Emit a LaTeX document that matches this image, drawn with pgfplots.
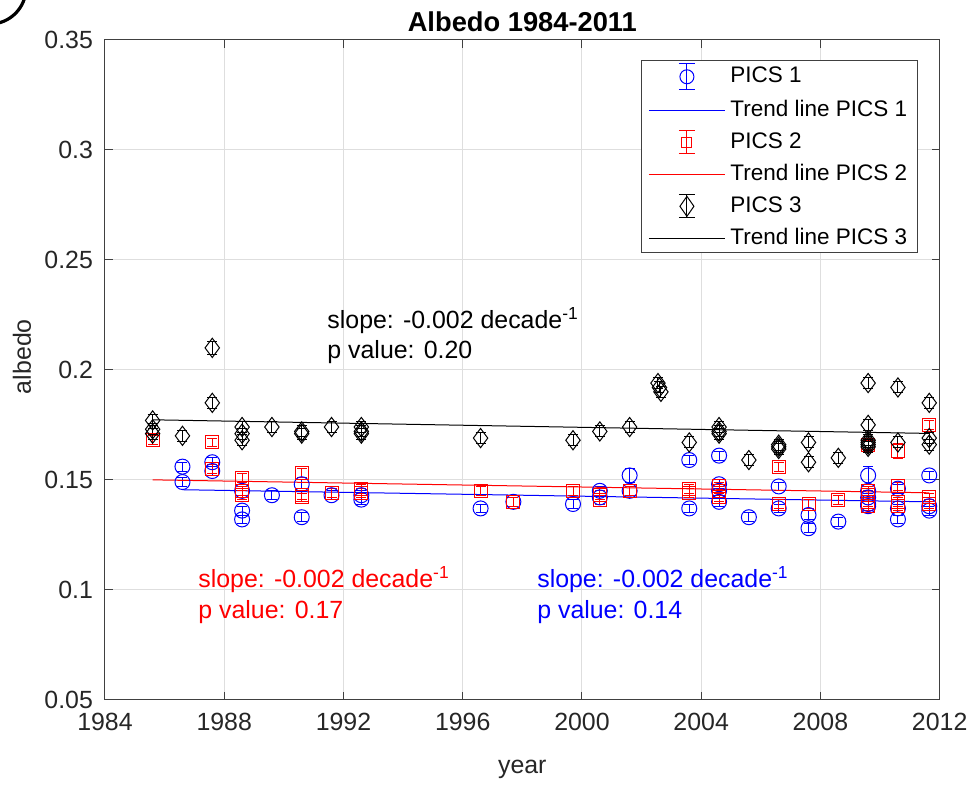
\documentclass[border=0pt]{standalone}
\usepackage{fontspec}
\setmainfont{Liberation Sans}
\usepackage{pgfplots}
\usepackage{pgfplotstable}
\pgfplotsset{compat=1.18}

% year, albedo, error
\pgfplotstableread{
x y e
1986.6 0.156 0.002
1986.6 0.149 0.002
1987.6 0.158 0.002
1987.6 0.154 0.002
1988.6 0.145 0.002
1988.6 0.136 0.002
1988.6 0.132 0.002
1989.6 0.143 0.002
1990.6 0.148 0.002
1990.6 0.133 0.002
1991.6 0.143 0.002
1992.6 0.143 0.002
1992.6 0.141 0.002
1996.6 0.137 0.002
1997.7 0.140 0.002
1999.7 0.139 0.002
2000.6 0.145 0.002
2000.6 0.142 0.002
2001.6 0.152 0.003
2001.6 0.145 0.002
2003.6 0.159 0.002
2003.6 0.137 0.002
2004.6 0.161 0.002
2004.6 0.148 0.002
2004.6 0.145 0.002
2004.6 0.140 0.002
2005.6 0.133 0.002
2006.6 0.147 0.002
2006.6 0.137 0.002
2007.6 0.134 0.002
2007.6 0.128 0.002
2008.6 0.131 0.002
2009.6 0.152 0.004
2009.6 0.145 0.002
2009.6 0.142 0.002
2009.6 0.139 0.002
2009.6 0.138 0.002
2010.6 0.146 0.002
2010.6 0.137 0.002
2010.6 0.132 0.002
2011.65 0.152 0.002
2011.65 0.138 0.002
2011.65 0.136 0.002
}\picsone

\pgfplotstableread{
x y e
1985.6 0.168 0.002
1987.6 0.167 0.002
1987.6 0.155 0.002
1988.6 0.151 0.002
1988.6 0.145 0.002
1988.6 0.143 0.002
1990.6 0.153 0.002
1990.6 0.143 0.002
1990.6 0.142 0.002
1991.6 0.144 0.002
1992.6 0.146 0.002
1992.6 0.144 0.002
1996.6 0.145 0.002
1997.7 0.140 0.002
1999.7 0.145 0.002
2000.6 0.143 0.002
2000.6 0.141 0.002
2001.6 0.145 0.002
2003.6 0.146 0.002
2003.6 0.144 0.002
2004.6 0.147 0.002
2004.6 0.145 0.002
2004.6 0.142 0.002
2006.6 0.156 0.002
2006.6 0.139 0.002
2007.6 0.139 0.002
2008.6 0.141 0.002
2009.6 0.166 0.002
2009.6 0.145 0.002
2009.6 0.143 0.002
2009.6 0.140 0.002
2009.6 0.138 0.002
2010.6 0.163 0.0035
2010.6 0.147 0.002
2010.6 0.140 0.002
2010.6 0.138 0.002
2011.65 0.175 0.002
2011.65 0.142 0.002
2011.65 0.139 0.002
}\picstwo

\pgfplotstableread{
x y e
1985.6 0.177 0.0025
1985.6 0.173 0.0025
1985.6 0.171 0.0025
1986.6 0.170 0.0025
1987.6 0.210 0.003
1987.6 0.185 0.0025
1988.6 0.174 0.0025
1988.6 0.171 0.0025
1988.6 0.168 0.0025
1989.6 0.174 0.0025
1990.6 0.172 0.0025
1990.6 0.171 0.0025
1991.6 0.174 0.0025
1992.6 0.174 0.0025
1992.6 0.172 0.0025
1992.6 0.171 0.0025
1996.6 0.169 0.0025
1999.7 0.168 0.0025
2000.6 0.172 0.0025
2001.6 0.174 0.0025
2002.55 0.194 0.0025
2002.6 0.192 0.0025
2002.65 0.190 0.0025
2003.6 0.167 0.0025
2004.6 0.174 0.0025
2004.6 0.172 0.0025
2004.6 0.171 0.0025
2005.6 0.159 0.0025
2006.6 0.166 0.0025
2006.6 0.165 0.0025
2006.6 0.164 0.0025
2007.6 0.167 0.0025
2007.6 0.158 0.0025
2008.6 0.160 0.0025
2009.6 0.194 0.0025
2009.6 0.175 0.0025
2009.6 0.168 0.0025
2009.6 0.167 0.0025
2009.6 0.166 0.0025
2009.6 0.165 0.0025
2010.6 0.192 0.0025
2010.6 0.167 0.0025
2011.65 0.185 0.0025
2011.65 0.169 0.0025
2011.65 0.166 0.0025
}\picsthree

\begin{document}
\begin{tikzpicture}
% page frame and the clipped panel-letter ring in the corner
\path (-52.5bp,-42.5bp) rectangle (434.5bp,350bp);
\begin{scope}
  \clip (-52.5bp,-42.5bp) rectangle (434.5bp,350bp);
  \draw[line width=1.6bp] (-57.5bp,356bp) circle (18bp);
\end{scope}
\begin{axis}[
  at={(0,0)}, anchor=south west,
  width=417.5bp, height=330bp, scale only axis,
  xmin=1984, xmax=2012, ymin=0.05, ymax=0.35,
  xtick={1984,1988,1992,1996,2000,2004,2008,2012},
  ytick={0.05,0.1,0.15,0.2,0.25,0.3,0.35},
  scaled y ticks=false,
  xticklabel style={/pgf/number format/1000 sep={}, yshift=-3bp},
  yticklabel style={/pgf/number format/fixed, /pgf/number format/precision=2, xshift=-2.5bp},
  /pgf/number format/assume math mode=true,
  ticklabel style={font=\fontsize{12.5}{14}\selectfont, text=black!85},
  tick align=inside, major tick length=4bp,
  tick style={black!75, line width=0.5bp},
  axis line style={black!75, line width=0.5bp},
  grid=major, major grid style={black!13, line width=0.5bp},
  xlabel={year}, ylabel={albedo},
  label style={font=\fontsize{12.5}{14}\selectfont, text=black!85},
  xlabel style={at={(axis description cs:0.5,-0.105)}, anchor=center},
  ylabel style={at={(axis description cs:-0.0994,0.52)}, anchor=center},
  title={Albedo 1984-2011},
  title style={font=\fontsize{13.7}{15}\selectfont\bfseries, at={(axis description cs:0.5,1)}, anchor=base, yshift=-1.5bp},
  legend style={at={(rel axis cs:0.9737,0.9697)}, anchor=north east,
    draw=black!75, line width=0.5bp, inner xsep=3.5bp, inner ysep=1.5bp,
    font=\fontsize{11.3}{13}\selectfont, row sep=4.5bp, column sep=1bp,
    nodes={inner xsep=1.5bp, inner ysep=0pt, text height=8.5bp, text depth=2.5bp, anchor=west}},
  legend cell align=left,
  error bars/y dir=both, error bars/y explicit,
  error bars/error bar style={line width=0.5bp, solid},
]
% PICS 1
\addplot[only marks, blue, mark=o, mark size=3.75bp, mark options={line width=0.5bp},
  error bars/error mark options={blue, mark size=2.5bp, line width=0.5bp, rotate=90}, forget plot]
  table[x=x, y=y, y error=e] {\picsone};
\addplot[blue, line width=0.5bp, forget plot] coordinates {(1986.6,0.1455) (2011.65,0.1400)};
% PICS 2
\addplot[only marks, red, mark=square, mark size=3.25bp, mark options={line width=0.5bp},
  error bars/error mark options={red, mark size=2.5bp, line width=0.5bp, rotate=90}, forget plot]
  table[x=x, y=y, y error=e] {\picstwo};
\addplot[red, line width=0.5bp, forget plot] coordinates {(1985.6,0.1500) (2011.65,0.1441)};
% PICS 3
\addplot[only marks, black, mark=diamond, mark size=4.8bp, mark options={line width=0.5bp},
  error bars/error mark options={black, mark size=2.5bp, line width=0.5bp, rotate=90}, forget plot]
  table[x=x, y=y, y error=e] {\picsthree};
\addplot[black, line width=0.5bp, forget plot] coordinates {(1985.6,0.1773) (2011.65,0.1711)};

% legend entries
\addlegendimage{legend image code/.code={
  \draw[draw=blue, line width=0.5bp] (19bp,-6.4bp) -- (19bp,6.4bp)
    (15bp,-6.4bp) -- (23bp,-6.4bp) (15bp,6.4bp) -- (23bp,6.4bp);
  \draw[draw=blue, line width=0.5bp] (19bp,0bp) circle (3.5bp);}}
\addlegendentry{PICS 1}
\addlegendimage{legend image code/.code={\draw[draw=blue, line width=0.5bp] (0bp,0bp) -- (38bp,0bp);}}
\addlegendentry{Trend line PICS 1}
\addlegendimage{legend image code/.code={
  \draw[draw=red, line width=0.5bp] (19bp,-5.8bp) -- (19bp,5.8bp)
    (15bp,-5.8bp) -- (23bp,-5.8bp) (15bp,5.8bp) -- (23bp,5.8bp);
  \draw[draw=red, line width=0.5bp] (16.5bp,-2.5bp) rectangle (21.5bp,2.5bp);}}
\addlegendentry{PICS 2}
\addlegendimage{legend image code/.code={\draw[draw=red, line width=0.5bp] (0bp,0bp) -- (38bp,0bp);}}
\addlegendentry{Trend line PICS 2}
\addlegendimage{legend image code/.code={
  \draw[draw=black, line width=0.5bp] (19bp,-5.8bp) -- (19bp,5.8bp)
    (15bp,-5.8bp) -- (23bp,-5.8bp) (15bp,5.8bp) -- (23bp,5.8bp);
  \draw[draw=black, line width=0.5bp] (19bp,-5bp) -- (22.5bp,0bp) -- (19bp,5bp) -- (15.5bp,0bp) -- cycle;}}
\addlegendentry{PICS 3}
\addlegendimage{legend image code/.code={\draw[draw=black, line width=0.5bp] (0bp,0bp) -- (38bp,0bp);}}
\addlegendentry{Trend line PICS 3}

% slope annotations
\node[anchor=west, font=\fontsize{12.5}{14}\selectfont, text=black, inner sep=0pt] at (axis cs:1991.45,0.2225) {slope: -0.002 decade\textsuperscript{-1}};
\node[anchor=west, font=\fontsize{12.5}{14}\selectfont, text=black, inner sep=0pt] at (axis cs:1991.45,0.2080) {p value: 0.20};
\node[anchor=west, font=\fontsize{12.5}{14}\selectfont, text=red, inner sep=0pt] at (axis cs:1987.12,0.1045) {slope: -0.002 decade\textsuperscript{-1}};
\node[anchor=west, font=\fontsize{12.5}{14}\selectfont, text=red, inner sep=0pt] at (axis cs:1987.12,0.0900) {p value: 0.17};
\node[anchor=west, font=\fontsize{12.5}{14}\selectfont, text=blue, inner sep=0pt] at (axis cs:1998.49,0.1045) {slope: -0.002 decade\textsuperscript{-1}};
\node[anchor=west, font=\fontsize{12.5}{14}\selectfont, text=blue, inner sep=0pt] at (axis cs:1998.49,0.0900) {p value: 0.14};
\end{axis}
\end{tikzpicture}
\end{document}
